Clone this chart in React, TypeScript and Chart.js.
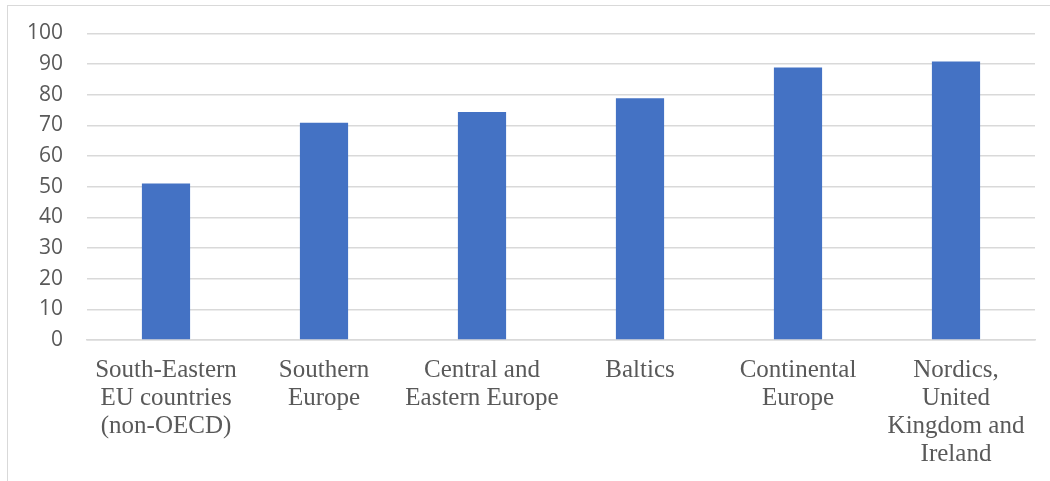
import React, { useEffect, useRef } from "react";
import { Chart, registerables } from "chart.js";

Chart.register(...registerables);

const regions: string[][] = [
  ["South-Eastern", "EU countries", "(non-OECD)"],
  ["Southern", "Europe"],
  ["Central and", "Eastern Europe"],
  ["Baltics"],
  ["Continental", "Europe"],
  ["Nordics,", "United", "Kingdom and", "Ireland"],
];

const scores: number[] = [51.1, 70.9, 74.4, 78.9, 88.9, 90.9];

const yTicks: number[] = [0, 10, 20, 30, 40, 50, 60, 70, 80, 90, 100];

const BAR_BLUE = "#4472C4";
const GRID_GREY = "#d9d9d9";
const TEXT_GREY = "#595959";

export default function App() {
  const canvasRef = useRef<HTMLCanvasElement | null>(null);

  useEffect(() => {
    if (!canvasRef.current) return;
    const chart = new Chart(canvasRef.current, {
      type: "bar",
      data: {
        labels: regions,
        datasets: [
          {
            data: scores,
            backgroundColor: BAR_BLUE,
            borderWidth: 0,
            barPercentage: 0.305,
            categoryPercentage: 1,
          },
        ],
      },
      options: {
        animation: false,
        responsive: true,
        maintainAspectRatio: false,
        layout: { padding: { left: 0, right: 15, top: 33.5, bottom: 0 } },
        plugins: {
          legend: { display: false },
          tooltip: { enabled: false },
        },
        scales: {
          x: {
            grid: { display: false, drawTicks: false },
            border: { display: true, color: GRID_GREY, width: 1.5 },
            ticks: {
              autoSkip: false,
              maxRotation: 0,
              minRotation: 0,
              padding: 16,
              color: TEXT_GREY,
              font: { family: "'Liberation Serif', 'Times New Roman', serif", size: 25, lineHeight: "28px" },
            },
            afterFit: (scale: any) => {
              scale.height = 141;
            },
          },
          y: {
            min: 0,
            max: 100,
            afterBuildTicks: (scale: any) => {
              scale.ticks = yTicks.map((v) => ({ value: v }));
            },
            // invisible tick marks keep the labels clear of the plot area
            grid: {
              color: GRID_GREY,
              lineWidth: 1.5,
              drawTicks: true,
              tickLength: 24,
              tickColor: "rgba(0,0,0,0)",
            },
            border: { display: false },
            ticks: {
              padding: 0,
              color: TEXT_GREY,
              font: { family: "'Open Sans', sans-serif", size: 21 },
            },
            afterFit: (scale: any) => {
              scale.width = 87;
            },
          },
        },
      },
    });
    return () => chart.destroy();
  }, []);

  return (
    <div style={{ position: "fixed", left: 0, top: 0, width: 1050, height: 481, background: "#fff", overflow: "hidden" }}>
      <div
        style={{
          position: "absolute",
          left: 7,
          top: 5,
          width: 1100,
          height: 520,
          borderLeft: "1.5px solid #d9d9d9",
          borderTop: "1.5px solid #d9d9d9",
        }}
      />
      <div style={{ position: "absolute", left: 0, top: 0, width: 1050, height: 481 }}>
        <canvas ref={canvasRef} />
      </div>
    </div>
  );
}
